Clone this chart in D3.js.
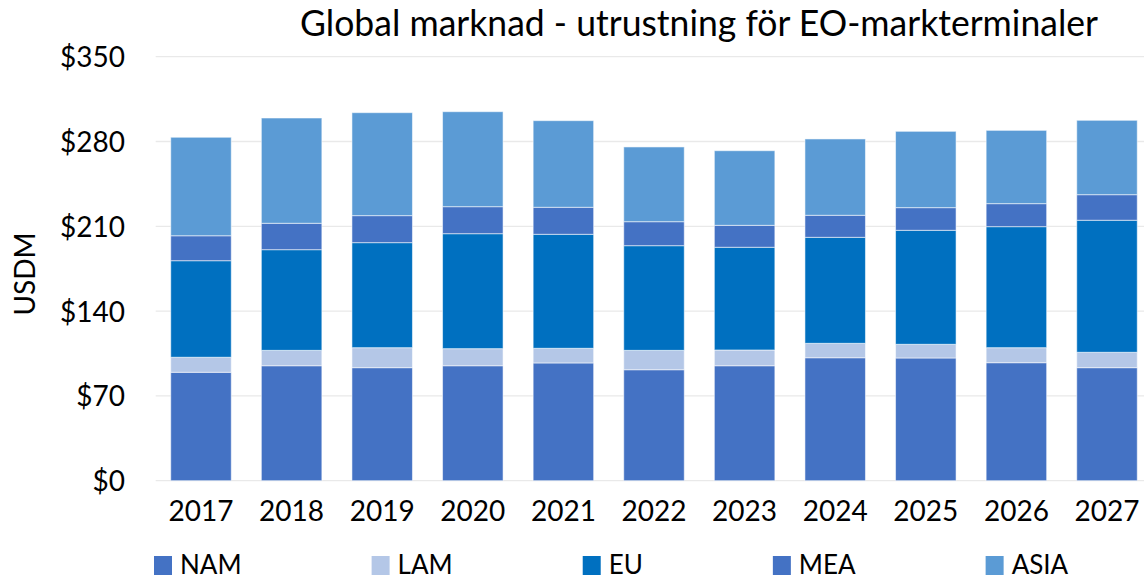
<!DOCTYPE html>
<html>
<head>
<meta charset="utf-8">
<script src="https://cdn.jsdelivr.net/npm/d3@7"></script>
<style>
  html, body { margin: 0; padding: 0; background: #fff; }
  svg { display: block; }
  text { font-family: Lato, "Open Sans", sans-serif; fill: #000; }
</style>
</head>
<body>
<svg id="chart" width="1144" height="580"></svg>
<script>
const title = "Global marknad - utrustning för EO-markterminaler";
const yAxisLabel = "USDM";
const years = ["2017","2018","2019","2020","2021","2022","2023","2024","2025","2026","2027"];
const seriesNames = ["NAM","LAM","EU","MEA","ASIA"];
const seriesColors = ["#4472C4","#B4C7E7","#0070C0","#4472C4","#5B9BD5"];
const NAM  = [89.5, 94.9, 93.3, 94.9, 97.2, 91.6, 94.9, 101.5, 101.3, 97.4, 93.3];
const LAM  = [12.4, 12.7, 16.5, 14.1, 12.1, 16.0, 13.0, 11.9, 11.3, 12.4, 12.7];
const EU   = [79.7, 83.1, 86.7, 94.9, 94.1, 86.4, 84.8, 87.5, 94.1, 99.9, 109.0];
const MEA  = [20.6, 21.8, 22.3, 22.3, 22.3, 19.8, 18.1, 18.2, 18.7, 19.0, 21.1];
const ASIA = [81.3, 86.9, 85.0, 78.4, 71.5, 61.7, 61.6, 63.0, 63.0, 60.5, 61.4];
const yTicks = [0, 70, 140, 210, 280, 350];

const seriesValues = [NAM, LAM, EU, MEA, ASIA];
const rows = years.map((y, i) => {
  const r = { year: y };
  seriesNames.forEach((s, k) => r[s] = seriesValues[k][i]);
  return r;
});

const svg = d3.select("#chart");
const x = d3.scaleBand().domain(years).range([155.7, 1152.3]).paddingInner(0.332).paddingOuter(0.166);
const y = d3.scaleLinear().domain([0, 350]).range([480.7, 56.7]);
const color = d3.scaleOrdinal().domain(seriesNames).range(seriesColors);

// gridlines
svg.append("g").selectAll("line").data(yTicks).join("line")
  .attr("x1", 155.7).attr("x2", 1144)
  .attr("y1", d => y(d)).attr("y2", d => y(d))
  .attr("stroke", "#e9e9e9").attr("stroke-width", 1.3);

// y axis labels
const yAxis = d3.axisLeft(y).tickValues(yTicks).tickFormat(d => "$" + d).tickSize(0).tickPadding(0);
const gy = svg.append("g").attr("transform", "translate(125,0)").call(yAxis);
gy.select(".domain").remove();
gy.selectAll("text").attr("font-size", 28).attr("font-family", "Lato, sans-serif").attr("fill", "#000").attr("dy", "0.36em");

// x axis labels
const xAxis = d3.axisBottom(x).tickSize(0).tickPadding(0);
const gx = svg.append("g").attr("transform", "translate(0,500)").call(xAxis);
gx.select(".domain").remove();
gx.selectAll("text").attr("font-size", 28).attr("font-family", "Lato, sans-serif").attr("fill", "#000").attr("dy", "0.75em");

// stacked bars
const stack = d3.stack().keys(seriesNames)(rows);
svg.append("g").selectAll("g").data(stack).join("g")
  .attr("fill", d => color(d.key))
  .selectAll("rect").data(d => d).join("rect")
  .attr("x", d => x(d.data.year))
  .attr("width", x.bandwidth())
  .attr("y", d => y(d[1]))
  .attr("height", d => y(d[0]) - y(d[1]))
  .attr("stroke", "rgba(255,255,255,0.55)").attr("stroke-width", 1);

// title
svg.append("text").attr("x", 300).attr("y", 36)
  .attr("font-size", 36)
  .attr("textLength", 798).attr("lengthAdjust", "spacingAndGlyphs")
  .text(title);

// y axis title
svg.append("text").attr("transform", "translate(35,274) rotate(-90)")
  .attr("text-anchor", "middle").attr("font-size", 28).text(yAxisLabel);

// legend
const lg = svg.append("g");
let lx = 154;
seriesNames.forEach((s, k) => {
  lg.append("rect").attr("x", lx).attr("y", 556).attr("width", 18).attr("height", 19).attr("fill", seriesColors[k]);
  const t = lg.append("text").attr("x", lx + 26).attr("y", 574).attr("font-size", 26).text(s);
  const w = t.node().getComputedTextLength();
  lx = lx + 26 + w + 130;
});
</script>
</body>
</html>
